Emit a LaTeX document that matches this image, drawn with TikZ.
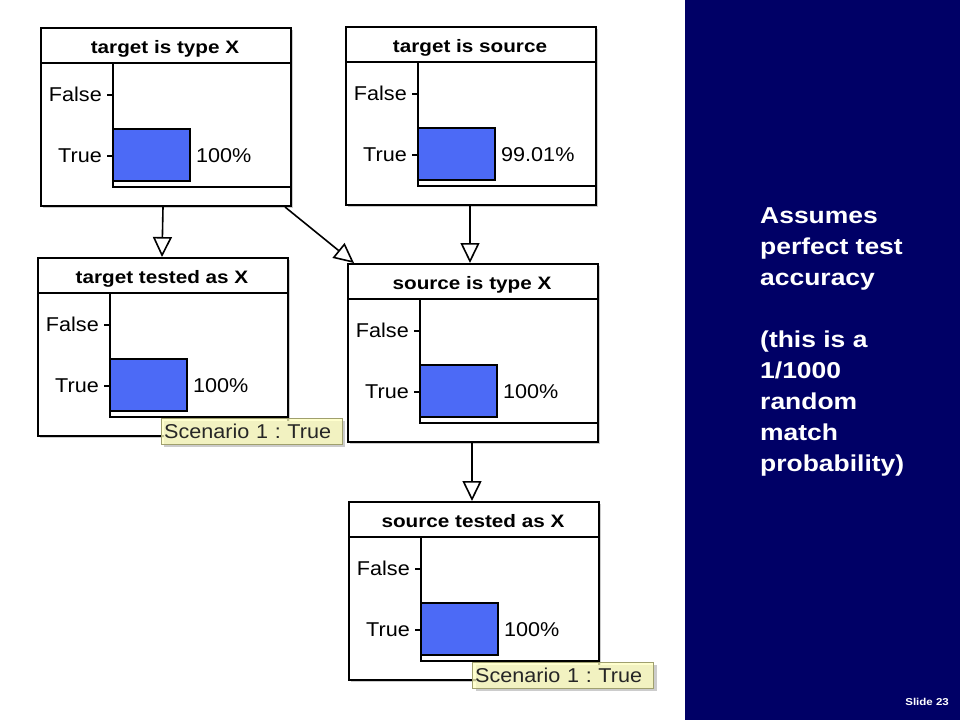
\documentclass[tikz,border=0pt]{standalone}
\usepackage{fontspec}
\setmainfont{Liberation Sans}
\newfontfamily\labelfont[FakeStretch=1.08]{Liberation Sans}
\newfontfamily\headfont[FakeStretch=1.15]{Liberation Sans}
\usetikzlibrary{arrows.meta}
\definecolor{barblue}{RGB}{76,106,246}
\definecolor{slidenavy}{RGB}{0,0,102}
\definecolor{notefill}{RGB}{255,255,190}
\definecolor{noteline}{RGB}{160,160,110}
\frenchspacing
\begin{document}
\begin{tikzpicture}[x=1pt,y=-1pt]
\tikzstyle{netbox}=[draw,line width=2pt,fill=white,anchor=north west,inner sep=0,minimum width=250pt,minimum height=178pt]
\tikzstyle{boxshadow}=[fill=gray!40]
\tikzstyle{axis}=[line width=1.5pt]
\tikzstyle{headtext}=[inner sep=0,anchor=base,font=\headfont\bfseries\fontsize{18}{20}\selectfont]
\tikzstyle{labeltext}=[inner sep=0,font=\labelfont\fontsize{20}{22}\selectfont]
\tikzstyle{scenario}=[draw=noteline,fill=notefill,fill opacity=0.75,text opacity=1,anchor=north west,inner sep=0,inner xsep=3pt,text width=175pt,minimum height=26pt,align=left,text=black!85,font=\labelfont\fontsize{20}{22}\selectfont]
\tikzstyle{link}=[line width=1.6pt,-{Triangle[length=20pt,width=19pt,fill=white]}]
\useasboundingbox (0,0) rectangle (960,720);
% network nodes
\foreach \n/\x/\y/\t/\p in {tx/40/27/target is type X/100\%,ts/345/26/target is source/99.01\%,tt/37/257/target tested as X/100\%,sx/347/263/source is type X/100\%,st/348/501/source tested as X/100\%}{
  \fill[boxshadow] (\x+3,\y+3) rectangle +(250,178);
  \node[netbox] (\n) at (\x,\y) {};
  \node[headtext] (\n-title) at (\x+125,\y+26) {\t};
  \draw[line width=2pt] (\x,\y+36) -- (\x+250,\y+36);
  \draw[axis,fill=barblue] (\x+73,\y+102) rectangle (\x+150,\y+154);
  \draw[axis] (\x+73,\y+36) -- (\x+73,\y+160) -- (\x+250,\y+160);
  \draw[axis] (\x+67,\y+68) -- (\x+73,\y+68);
  \draw[axis] (\x+67,\y+129) -- (\x+73,\y+129);
  \node[labeltext,anchor=base east] (\n-false) at (\x+62,\y+74) {False};
  \node[labeltext,anchor=base east] (\n-true) at (\x+62,\y+135) {True};
  \node[labeltext,anchor=base west] (\n-pct) at (\x+156,\y+135) {\p};
}
% evidence labels
\fill[boxshadow] (164,421) rectangle +(181,26);
\node[scenario] (sctt) at (161,418) {Scenario 1 : True};
\fill[boxshadow] (476,665) rectangle +(181,26);
\node[scenario] (scst) at (472,662) {Scenario 1 : True};
% links
\draw[link] ([xshift=123pt]tx.south west) -- ([xshift=125pt]tt.north west);
\draw[link] ([xshift=-7pt]tx.south east) -- ([xshift=7pt]sx.north west);
\draw[link] ([xshift=125pt]ts.south west) -- ([xshift=123pt]sx.north west);
\draw[link] ([xshift=125pt]sx.south west) -- ([xshift=124pt]st.north west);
% side panel
\node[fill=slidenavy,anchor=north west,inner sep=0,minimum width=275pt,minimum height=720pt] (panel) at (685,0) {};
\node[text=white,anchor=north west,inner sep=0,align=left,font=\headfont\bfseries\fontsize{23}{31}\selectfont] (note) at (760,207.5) {Assumes\\perfect test\\accuracy\\[31pt](this is a\\1/1000\\random\\match\\probability)};
\node[text=white,anchor=base east,inner sep=0,font=\headfont\bfseries\fontsize{10}{12}\selectfont] (slideno) at (949,705) {Slide 23};
\end{tikzpicture}
\end{document}
